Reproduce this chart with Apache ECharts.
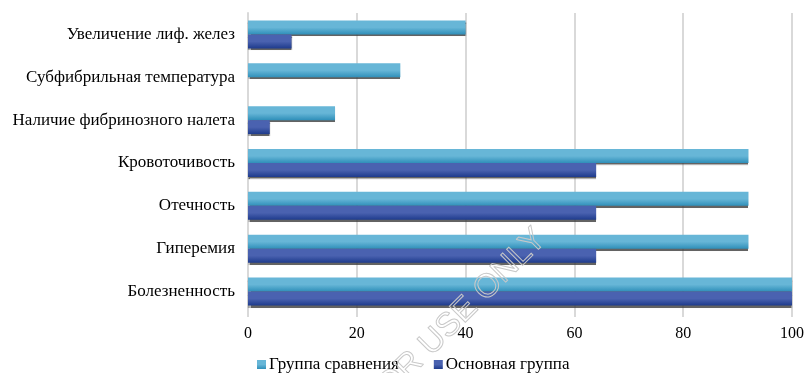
<!DOCTYPE html>
<html>
<head>
<meta charset="utf-8">
<script src="https://cdn.jsdelivr.net/npm/echarts@6/dist/echarts.min.js"></script>
<style>
  html, body { margin: 0; padding: 0; background: #fff; }
  #chart { width: 807px; height: 373px; }
</style>
</head>
<body>
<div id="chart"></div>
<script>
// categories, top to bottom
const categories = [
  'Увеличение лиф. желез',
  'Субфибрильная температура',
  'Наличие фибринозного налета',
  'Кровоточивость',
  'Отечность',
  'Гиперемия',
  'Болезненность'
]
const comparisonGroup = [40, 28, 16, 92, 92, 92, 100]
const mainGroup = [8, 0, 4, 64, 64, 64, 100]
const xTicks = [0, 20, 40, 60, 80, 100]

const chart = echarts.init(document.getElementById('chart'))

function barGradient(top, bottom) {
  return new echarts.graphic.LinearGradient(0, 0, 0, 1, [
    { offset: 0, color: top },
    { offset: 0.5, color: top },
    { offset: 1, color: bottom }
  ])
}

const serif = '"Liberation Serif", "DejaVu Serif", serif'

const option = {
  animation: false,
  textStyle: { fontFamily: serif, color: '#000' },
  grid: { left: 248, right: 15, top: 13, bottom: 60 },
  legend: {
    left: 252,
    top: 351,
    itemWidth: 9,
    itemHeight: 9,
    itemGap: 35,
    icon: 'rect',
    textStyle: { fontFamily: serif, fontSize: 17, color: '#000', padding: [0, 0, 0, -2] },
    data: ['Группа сравнения', 'Основная группа']
  },
  xAxis: {
    type: 'value',
    min: xTicks[0],
    max: xTicks[xTicks.length - 1],
    interval: 20,
    axisLine: { show: false },
    axisTick: { show: true, length: 4, lineStyle: { color: '#d9d9d9', width: 2 } },
    splitLine: { show: true, lineStyle: { color: '#d9d9d9', width: 2 } },
    axisLabel: { fontFamily: serif, fontSize: 16, color: '#000', margin: 13 }
  },
  yAxis: {
    type: 'category',
    inverse: true,
    data: categories,
    axisLine: { show: true, lineStyle: { color: '#d9d9d9', width: 2 } },
    axisTick: { show: false },
    axisLabel: { fontFamily: serif, fontSize: 17, color: '#000', margin: 13, padding: [3, 0, 0, 0] }
  },
  series: [
    {
      name: 'Группа сравнения',
      type: 'bar',
      data: comparisonGroup,
      barWidth: 14,
      barGap: '0%',
      itemStyle: {
        color: barGradient('#67b6d7', '#2f8fb9'),
        shadowColor: 'rgba(60,60,60,0.8)',
        shadowOffsetX: 0,
        shadowOffsetY: 2,
        shadowBlur: 1
      }
    },
    {
      name: 'Основная группа',
      type: 'bar',
      data: mainGroup,
      barWidth: 14,
      barGap: '0%',
      itemStyle: {
        color: barGradient('#4a62b0', '#1e3b8c'),
        shadowColor: 'rgba(60,60,60,0.8)',
        shadowOffsetX: 0,
        shadowOffsetY: 2,
        shadowBlur: 1
      }
    }
  ],
  graphic: [
    {
      type: 'text',
      x: 455,
      y: 320,
      rotation: Math.PI / 4,
      style: {
        text: 'FOR USE ONLY',
        fontFamily: 'Liberation Sans, sans-serif',
        fontSize: 33,
        fill: 'rgba(255,255,255,0)',
        stroke: '#c8c8c8',
        lineWidth: 1,
        align: 'center',
        verticalAlign: 'middle'
      },
      z: 100
    }
  ]
}

chart.setOption(option)
</script>
</body>
</html>
